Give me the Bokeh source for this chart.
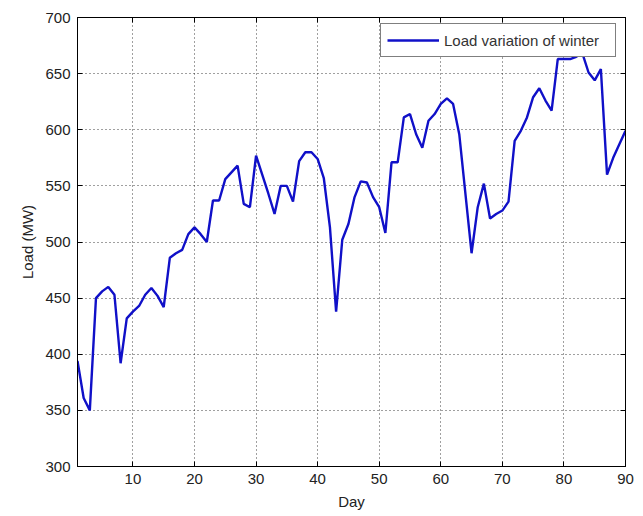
from bokeh.plotting import figure
from bokeh.models import LinearAxis, Range1d, FixedTicker, Legend, LegendItem, CustomJSTickFormatter
from bokeh.embed import file_html
from bokeh.resources import INLINE

days = list(range(1, 91))
load = [394, 361, 350, 450, 456, 460, 453, 392, 432, 438,
        443, 453, 459, 452, 442, 486, 490, 493, 507, 513,
        507, 500, 537, 537, 556, 562, 568, 534, 531, 577,
        560, 543, 525, 550, 550, 536, 572, 580, 580, 574,
        557, 513, 438, 502, 516, 540, 554, 553, 540, 531,
        508, 571, 571, 611, 614, 596, 584, 608, 614, 623,
        628, 623, 596, 543, 490, 531, 552, 521, 525, 528,
        536, 590, 599, 611, 629, 637, 626, 617, 663, 663,
        663, 665, 668, 651, 644, 654, 560, 575, 587, 599]
x_ticks = [10, 20, 30, 40, 50, 60, 70, 80, 90]
y_ticks = [300, 350, 400, 450, 500, 550, 600, 650, 700]
series_name = "Load variation of winter"

FONT = "Liberation Sans"

p = figure(width=643, height=516, output_backend="svg", toolbar_location=None,
           x_range=Range1d(1, 90), y_range=Range1d(300, 700),
           min_border_left=77, min_border_right=18, min_border_top=17, min_border_bottom=50,
           x_axis_label="Day", y_axis_label="Load (MW)")
p.background_fill_color = "white"
p.border_fill_color = "white"
p.outline_line_color = "black"
p.outline_line_width = 1

for ax in (p.xaxis[0], p.yaxis[0]):
    ax.major_tick_in = 5
    ax.major_tick_out = 0
    ax.minor_tick_line_color = None
    ax.axis_line_color = "black"
    ax.major_tick_line_color = "black"
    ax.major_label_text_font = FONT
    ax.major_label_text_font_size = "15px"
    ax.major_label_text_color = "#222222"
    ax.axis_label_text_font = FONT
    ax.axis_label_text_font_size = "15px"
    ax.axis_label_text_font_style = "normal"
    ax.axis_label_text_color = "#222222"
    ax.major_label_standoff = 7
    ax.axis_label_standoff = 6
p.xaxis[0].ticker = FixedTicker(ticks=x_ticks)
p.yaxis[0].ticker = FixedTicker(ticks=y_ticks)

blank = CustomJSTickFormatter(code="return '';")
top_ax = LinearAxis(ticker=FixedTicker(ticks=x_ticks), formatter=blank,
                    major_tick_in=5, major_tick_out=0, minor_tick_line_color=None,
                    major_label_standoff=0, axis_line_color="black")
right_ax = LinearAxis(ticker=FixedTicker(ticks=y_ticks), formatter=blank,
                      major_tick_in=5, major_tick_out=0, minor_tick_line_color=None,
                      major_label_standoff=0, axis_line_color="black")
p.add_layout(top_ax, "above")
p.add_layout(right_ax, "right")

p.xgrid.ticker = FixedTicker(ticks=x_ticks)
p.ygrid.ticker = FixedTicker(ticks=y_ticks)
for g in (p.xgrid[0], p.ygrid[0]):
    g.grid_line_color = "black"
    g.grid_line_alpha = 0.75
    g.grid_line_dash = "1 3"
    g.grid_line_width = 1

r = p.line(days, load, line_color="#1010C8", line_width=2.4)

legend = Legend(items=[LegendItem(label=series_name, renderers=[r])],
                location=(303, 409), orientation="vertical",
                border_line_color="black", border_line_width=1,
                background_fill_color="white", background_fill_alpha=1.0,
                label_text_font=FONT, label_text_font_size="15px",
                label_text_color="#333333",
                glyph_width=52, glyph_height=20, label_height=20,
                label_width=165, label_standoff=5, padding=6, margin=0, spacing=0)
p.add_layout(legend, "center")

open("out.html", "w").write(file_html(p, INLINE))
